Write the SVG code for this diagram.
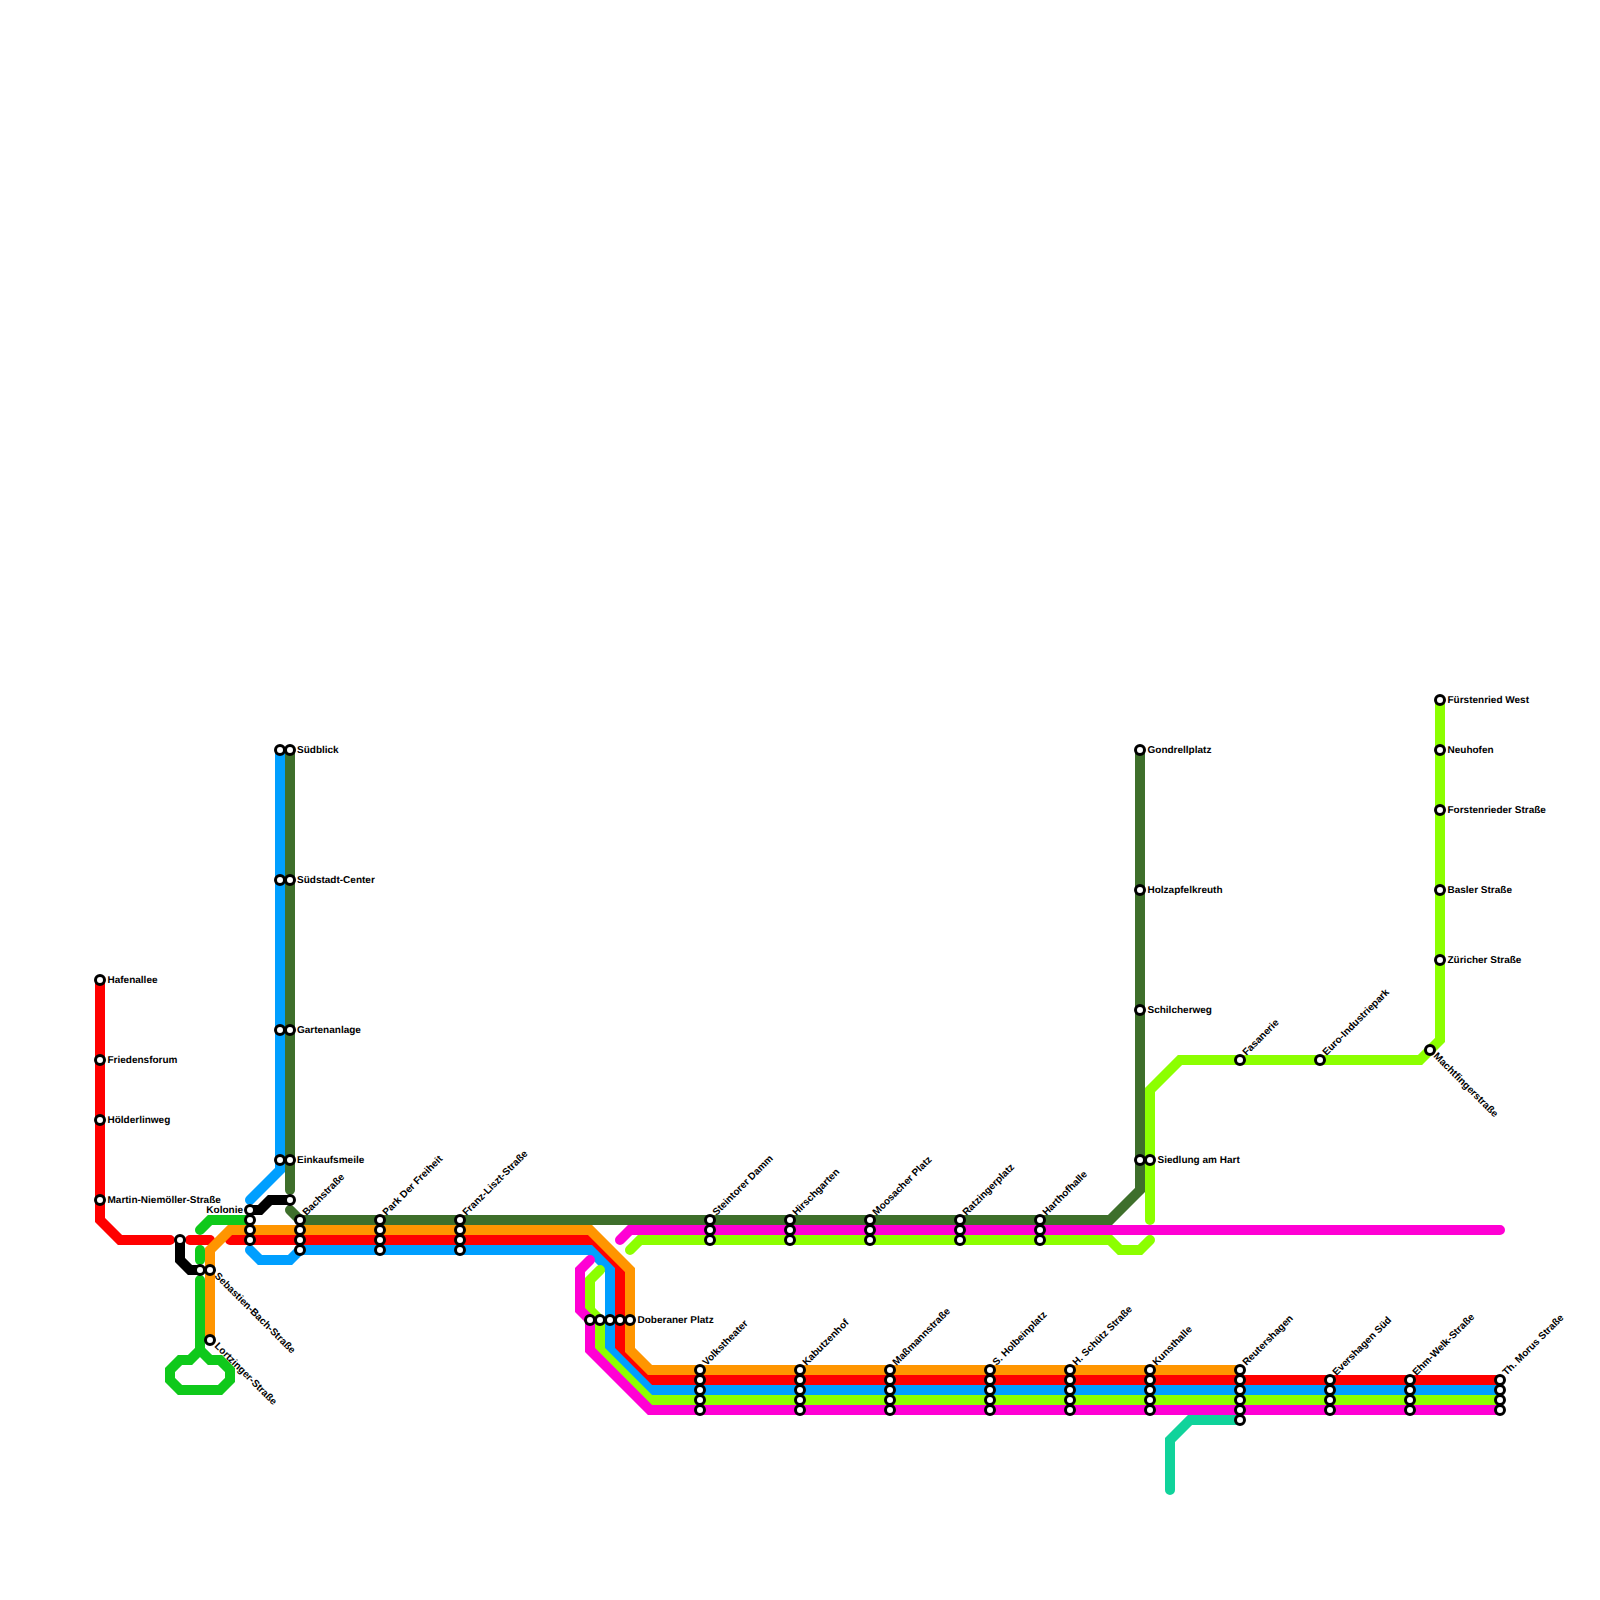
<svg xmlns="http://www.w3.org/2000/svg" width="1600" height="1600" viewBox="0 0 1600 1600">
<style>
.l{fill:none;stroke-width:10;stroke-linecap:round;stroke-linejoin:miter}
.s{fill:#fff;stroke:#000;stroke-width:3}
text{font-family:"Liberation Sans",Arial,sans-serif;font-size:10px;font-weight:700;fill:#000;text-rendering:geometricPrecision}
</style>
<rect width="1600" height="1600" fill="#fff"/>
<g id="connectors">
<path class="l" stroke="#ff0000" d="M100 980V1220L120 1240H170"/>
<path class="l" stroke="#ff0000" d="M190 1240H210"/>
<path class="l" stroke="#ff0000" d="M230 1240H590L620 1270V1350L650 1380H1500"/>
<path class="l" stroke="#000000" d="M180 1240V1260L190 1270H200"/>
<path class="l" stroke="#000000" d="M250 1210H260L270 1200H290"/>
<path class="l" stroke="#0fc91b" d="M200 1230L210 1220H250"/>
<path class="l" stroke="#0fc91b" d="M200 1250V1260"/>
<path class="l" stroke="#0fc91b" d="M200 1280V1350L190 1360H180L170 1370V1380L180 1390H220L230 1380V1370L220 1360H210L200 1350"/>
<path class="l" stroke="#ff9500" d="M210 1340V1250L230 1230H590L630 1270V1350L650 1370H1240"/>
<path class="l" stroke="#009fff" d="M280 750V1170L250 1200"/>
<path class="l" stroke="#009fff" d="M250 1250L260 1260H290L300 1250H590L610 1270V1350L650 1390H1500"/>
<path class="l" stroke="#3e6f2b" d="M290 750V1190"/>
<path class="l" stroke="#3e6f2b" d="M290 1210L300 1220H1110L1140 1190V750"/>
<path class="l" stroke="#8cff00" d="M600 1270L590 1280V1310L600 1320V1350L650 1400H1500"/>
<path class="l" stroke="#ff00d4" d="M590 1260L580 1270V1310L590 1320V1350L650 1410H1500"/>
<path class="l" stroke="#ff00d4" d="M620 1240L630 1230H1500"/>
<path class="l" stroke="#8cff00" d="M630 1250L640 1240H1110L1120 1250H1140L1150 1240"/>
<path class="l" stroke="#8cff00" d="M1150 1220V1090L1180 1060H1420L1440 1040V700"/>
<path class="l" stroke="#10d39b" d="M1170 1490V1440L1190 1420H1240"/>
</g>
<g id="n-hafenallee"><circle class="s" cx="100" cy="980" r="4.5"/><text x="107.5" y="983">Hafenallee</text></g>
<g id="n-friedensforum"><circle class="s" cx="100" cy="1060" r="4.5"/><text x="107.5" y="1063">Friedensforum</text></g>
<g id="n-hoelderlinweg"><circle class="s" cx="100" cy="1120" r="4.5"/><text x="107.5" y="1123">Hölderlinweg</text></g>
<g id="n-martin"><circle class="s" cx="100" cy="1200" r="4.5"/><text x="107.5" y="1203">Martin-Niemöller-Straße</text></g>
<g id="n-black"><circle class="s" cx="180" cy="1240" r="4.5"/></g>
<g id="n-sebastien"><circle class="s" cx="200" cy="1270" r="4.5"/><circle class="s" cx="210" cy="1270" r="4.5"/><text transform="translate(214 1276.5) rotate(45)">Sebastien-Bach-Straße</text></g>
<g id="n-lortzinger"><circle class="s" cx="210" cy="1340" r="4.5"/><text transform="translate(214 1346.5) rotate(45)">Lortzinger-Straße</text></g>
<g id="n-kolonie"><circle class="s" cx="250" cy="1210" r="4.5"/><circle class="s" cx="250" cy="1220" r="4.5"/><circle class="s" cx="250" cy="1230" r="4.5"/><circle class="s" cx="250" cy="1240" r="4.5"/><text x="243" y="1212.5" text-anchor="end">Kolonie</text></g>
<g id="n-suedblick"><circle class="s" cx="280" cy="750" r="4.5"/><circle class="s" cx="290" cy="750" r="4.5"/><text x="297" y="753">Südblick</text></g>
<g id="n-suedstadt"><circle class="s" cx="280" cy="880" r="4.5"/><circle class="s" cx="290" cy="880" r="4.5"/><text x="297" y="883">Südstadt-Center</text></g>
<g id="n-gartenanlage"><circle class="s" cx="280" cy="1030" r="4.5"/><circle class="s" cx="290" cy="1030" r="4.5"/><text x="297" y="1033">Gartenanlage</text></g>
<g id="n-einkaufsmeile"><circle class="s" cx="280" cy="1160" r="4.5"/><circle class="s" cx="290" cy="1160" r="4.5"/><text x="297" y="1163">Einkaufsmeile</text></g>
<g id="n-black2"><circle class="s" cx="290" cy="1200" r="4.5"/></g>
<g id="n-bachstrasse"><circle class="s" cx="300" cy="1220" r="4.5"/><circle class="s" cx="300" cy="1230" r="4.5"/><circle class="s" cx="300" cy="1240" r="4.5"/><circle class="s" cx="300" cy="1250" r="4.5"/><text transform="translate(306.5 1216) rotate(-45)">Bachstraße</text></g>
<g id="n-park"><circle class="s" cx="380" cy="1220" r="4.5"/><circle class="s" cx="380" cy="1230" r="4.5"/><circle class="s" cx="380" cy="1240" r="4.5"/><circle class="s" cx="380" cy="1250" r="4.5"/><text transform="translate(386.5 1216) rotate(-45)">Park Der Freiheit</text></g>
<g id="n-franz"><circle class="s" cx="460" cy="1220" r="4.5"/><circle class="s" cx="460" cy="1230" r="4.5"/><circle class="s" cx="460" cy="1240" r="4.5"/><circle class="s" cx="460" cy="1250" r="4.5"/><text transform="translate(466.5 1216) rotate(-45)">Franz-Liszt-Straße</text></g>
<g id="n-doberaner"><circle class="s" cx="590" cy="1320" r="4.5"/><circle class="s" cx="600" cy="1320" r="4.5"/><circle class="s" cx="610" cy="1320" r="4.5"/><circle class="s" cx="620" cy="1320" r="4.5"/><circle class="s" cx="630" cy="1320" r="4.5"/><text x="637.5" y="1323">Doberaner Platz</text></g>
<g id="n-steintorer"><circle class="s" cx="710" cy="1220" r="4.5"/><circle class="s" cx="710" cy="1230" r="4.5"/><circle class="s" cx="710" cy="1240" r="4.5"/><text transform="translate(716.5 1216) rotate(-45)">Steintorer Damm</text></g>
<g id="n-hirschgarten"><circle class="s" cx="790" cy="1220" r="4.5"/><circle class="s" cx="790" cy="1230" r="4.5"/><circle class="s" cx="790" cy="1240" r="4.5"/><text transform="translate(796.5 1216) rotate(-45)">Hirschgarten</text></g>
<g id="n-moosacher"><circle class="s" cx="870" cy="1220" r="4.5"/><circle class="s" cx="870" cy="1230" r="4.5"/><circle class="s" cx="870" cy="1240" r="4.5"/><text transform="translate(876.5 1216) rotate(-45)">Moosacher Platz</text></g>
<g id="n-ratzinger"><circle class="s" cx="960" cy="1220" r="4.5"/><circle class="s" cx="960" cy="1230" r="4.5"/><circle class="s" cx="960" cy="1240" r="4.5"/><text transform="translate(966.5 1216) rotate(-45)">Ratzingerplatz</text></g>
<g id="n-harthof"><circle class="s" cx="1040" cy="1220" r="4.5"/><circle class="s" cx="1040" cy="1230" r="4.5"/><circle class="s" cx="1040" cy="1240" r="4.5"/><text transform="translate(1046.5 1216) rotate(-45)">Harthofhalle</text></g>
<g id="n-volkstheater"><circle class="s" cx="700" cy="1370" r="4.5"/><circle class="s" cx="700" cy="1380" r="4.5"/><circle class="s" cx="700" cy="1390" r="4.5"/><circle class="s" cx="700" cy="1400" r="4.5"/><circle class="s" cx="700" cy="1410" r="4.5"/><text transform="translate(706.5 1366) rotate(-45)">Volkstheater</text></g>
<g id="n-kabutzenhof"><circle class="s" cx="800" cy="1370" r="4.5"/><circle class="s" cx="800" cy="1380" r="4.5"/><circle class="s" cx="800" cy="1390" r="4.5"/><circle class="s" cx="800" cy="1400" r="4.5"/><circle class="s" cx="800" cy="1410" r="4.5"/><text transform="translate(806.5 1366) rotate(-45)">Kabutzenhof</text></g>
<g id="n-massmann"><circle class="s" cx="890" cy="1370" r="4.5"/><circle class="s" cx="890" cy="1380" r="4.5"/><circle class="s" cx="890" cy="1390" r="4.5"/><circle class="s" cx="890" cy="1400" r="4.5"/><circle class="s" cx="890" cy="1410" r="4.5"/><text transform="translate(896.5 1366) rotate(-45)">Maßmannstraße</text></g>
<g id="n-holbein"><circle class="s" cx="990" cy="1370" r="4.5"/><circle class="s" cx="990" cy="1380" r="4.5"/><circle class="s" cx="990" cy="1390" r="4.5"/><circle class="s" cx="990" cy="1400" r="4.5"/><circle class="s" cx="990" cy="1410" r="4.5"/><text transform="translate(996.5 1366) rotate(-45)">S. Holbeinplatz</text></g>
<g id="n-schuetz"><circle class="s" cx="1070" cy="1370" r="4.5"/><circle class="s" cx="1070" cy="1380" r="4.5"/><circle class="s" cx="1070" cy="1390" r="4.5"/><circle class="s" cx="1070" cy="1400" r="4.5"/><circle class="s" cx="1070" cy="1410" r="4.5"/><text transform="translate(1076.5 1366) rotate(-45)">H. Schütz Straße</text></g>
<g id="n-kunsthalle"><circle class="s" cx="1150" cy="1370" r="4.5"/><circle class="s" cx="1150" cy="1380" r="4.5"/><circle class="s" cx="1150" cy="1390" r="4.5"/><circle class="s" cx="1150" cy="1400" r="4.5"/><circle class="s" cx="1150" cy="1410" r="4.5"/><text transform="translate(1156.5 1366) rotate(-45)">Kunsthalle</text></g>
<g id="n-reutershagen"><circle class="s" cx="1240" cy="1370" r="4.5"/><circle class="s" cx="1240" cy="1380" r="4.5"/><circle class="s" cx="1240" cy="1390" r="4.5"/><circle class="s" cx="1240" cy="1400" r="4.5"/><circle class="s" cx="1240" cy="1410" r="4.5"/><circle class="s" cx="1240" cy="1420" r="4.5"/><text transform="translate(1246.5 1366) rotate(-45)">Reutershagen</text></g>
<g id="n-evershagen"><circle class="s" cx="1330" cy="1380" r="4.5"/><circle class="s" cx="1330" cy="1390" r="4.5"/><circle class="s" cx="1330" cy="1400" r="4.5"/><circle class="s" cx="1330" cy="1410" r="4.5"/><text transform="translate(1336.5 1376) rotate(-45)">Evershagen Süd</text></g>
<g id="n-ehm"><circle class="s" cx="1410" cy="1380" r="4.5"/><circle class="s" cx="1410" cy="1390" r="4.5"/><circle class="s" cx="1410" cy="1400" r="4.5"/><circle class="s" cx="1410" cy="1410" r="4.5"/><text transform="translate(1416.5 1376) rotate(-45)">Ehm-Welk-Straße</text></g>
<g id="n-morus"><circle class="s" cx="1500" cy="1380" r="4.5"/><circle class="s" cx="1500" cy="1390" r="4.5"/><circle class="s" cx="1500" cy="1400" r="4.5"/><circle class="s" cx="1500" cy="1410" r="4.5"/><text transform="translate(1506.5 1376) rotate(-45)">Th. Morus Straße</text></g>
<g id="n-gondrell"><circle class="s" cx="1140" cy="750" r="4.5"/><text x="1147.5" y="753">Gondrellplatz</text></g>
<g id="n-holzapfel"><circle class="s" cx="1140" cy="890" r="4.5"/><text x="1147.5" y="893">Holzapfelkreuth</text></g>
<g id="n-schilcher"><circle class="s" cx="1140" cy="1010" r="4.5"/><text x="1147.5" y="1013">Schilcherweg</text></g>
<g id="n-siedlung"><circle class="s" cx="1140" cy="1160" r="4.5"/><circle class="s" cx="1150" cy="1160" r="4.5"/><text x="1157.5" y="1163">Siedlung am Hart</text></g>
<g id="n-fasanerie"><circle class="s" cx="1240" cy="1060" r="4.5"/><text transform="translate(1246.5 1056) rotate(-45)">Fasanerie</text></g>
<g id="n-euro"><circle class="s" cx="1320" cy="1060" r="4.5"/><text transform="translate(1326.5 1056) rotate(-45)">Euro-Industriepark</text></g>
<g id="n-machtfinger"><circle class="s" cx="1430" cy="1050" r="4.5"/><text transform="translate(1433 1056.5) rotate(45)">Machtfingerstraße</text></g>
<g id="n-fuerstenried"><circle class="s" cx="1440" cy="700" r="4.5"/><text x="1447.5" y="703">Fürstenried West</text></g>
<g id="n-neuhofen"><circle class="s" cx="1440" cy="750" r="4.5"/><text x="1447.5" y="753">Neuhofen</text></g>
<g id="n-forstenrieder"><circle class="s" cx="1440" cy="810" r="4.5"/><text x="1447.5" y="813">Forstenrieder Straße</text></g>
<g id="n-basler"><circle class="s" cx="1440" cy="890" r="4.5"/><text x="1447.5" y="893">Basler Straße</text></g>
<g id="n-zuericher"><circle class="s" cx="1440" cy="960" r="4.5"/><text x="1447.5" y="963">Züricher Straße</text></g>
</svg>
